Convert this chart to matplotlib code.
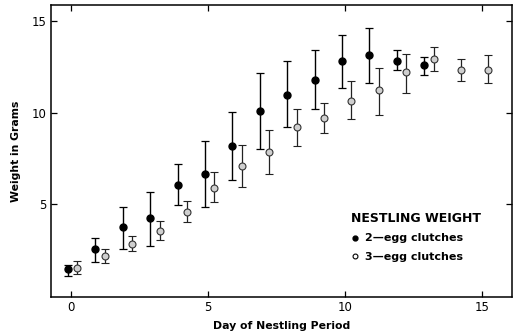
import numpy as np
import matplotlib
matplotlib.use('Agg')
import matplotlib.pyplot as plt
from matplotlib.lines import Line2D

# 2-egg clutches (filled)
day2 = [0, 1, 2, 3, 4, 5, 6, 7, 8, 9, 10, 11, 12, 13]
mean2 = [1.43, 2.55, 3.77, 4.22, 6.03, 6.68, 8.21, 10.10, 10.99, 11.79, 12.81, 13.15, 12.86, 12.64]
hi2 = [1.65, 3.17, 4.87, 5.67, 7.21, 8.48, 10.02, 12.19, 12.83, 13.42, 14.28, 14.64, 13.42, 13.06]
lo2 = [1.05, 1.83, 2.55, 2.73, 4.95, 4.82, 6.34, 8.03, 9.24, 10.22, 11.36, 11.65, 12.34, 12.07]

# 3-egg clutches (open)
day3 = [0, 1, 2, 3, 4, 5, 6, 7, 8, 9, 10, 11, 12, 13, 14, 15]
mean3 = [1.50, 2.16, 2.83, 3.52, 4.58, 5.89, 7.08, 7.86, 9.24, 9.73, 10.67, 11.23, 12.21, 12.97, 12.34, 12.34]
hi3 = [1.89, 2.55, 3.24, 4.06, 5.18, 6.78, 8.24, 9.06, 10.22, 10.53, 11.74, 12.48, 13.20, 13.60, 12.97, 13.14]
lo3 = [1.18, 1.78, 2.43, 3.03, 4.00, 5.11, 5.96, 6.65, 8.21, 8.90, 9.67, 9.88, 11.07, 12.28, 11.74, 11.65]

plt.rcParams['font.family'] = 'DejaVu Sans'

fig = plt.figure(figsize=(5.19, 3.36), dpi=100)
ax = fig.add_axes([0.0983, 0.116, 0.888, 0.869])

d2 = np.array(day2) - 0.12
d3 = np.array(day3) + 0.22
m2 = np.array(mean2)
m3 = np.array(mean3)
err2 = [m2 - np.array(lo2), np.array(hi2) - m2]
err3 = [m3 - np.array(lo3), np.array(hi3) - m3]

ax.errorbar(d2, m2, yerr=err2, fmt='o', color='black', ms=5,
            mfc='black', mec='black', ecolor='black', elinewidth=1.0,
            capsize=3, capthick=0.9)
ax.errorbar(d3, m3, yerr=err3, fmt='o', color='black', ms=5,
            mfc='#cfcfcf', mec='#333333', mew=0.8, ecolor='#222222',
            elinewidth=0.9, capsize=3, capthick=0.9)

ax.set_xlim(-0.74, 16.08)
ax.set_ylim(-0.08, 15.9)
ax.set_xticks([0, 5, 10, 15])
ax.set_yticks([5, 10, 15])
ax.tick_params(direction='in', length=4, width=0.9, top=True, right=True,
               labeltop=False, labelright=False, labelsize=8.5, pad=3)
for s in ax.spines.values():
    s.set_linewidth(1.1)

ax.set_xlabel('Day of Nestling Period', fontsize=7.8, fontweight='bold', labelpad=5)
ax.set_ylabel('Weight in Grams', fontsize=7.8, fontweight='bold', labelpad=8)

handles = [Line2D([], [], ls='none', marker='o', ms=3.5, mfc='black', mec='black'),
           Line2D([], [], ls='none', marker='o', ms=3.5, mfc='white', mec='black', mew=0.8)]
leg = ax.legend(handles, ['2\u2014egg clutches', '3\u2014egg clutches'],
                title='NESTLING WEIGHT', loc='upper left',
                bbox_to_anchor=(0.63, 0.325), frameon=False,
                handlelength=0.6, handletextpad=0.6, labelspacing=0.75,
                prop={'size': 8, 'weight': 'bold'})
leg.get_title().set_fontsize(9)
leg.get_title().set_fontweight('bold')
leg._legend_box.align = 'left'

fig.savefig('out.png', dpi=100)
